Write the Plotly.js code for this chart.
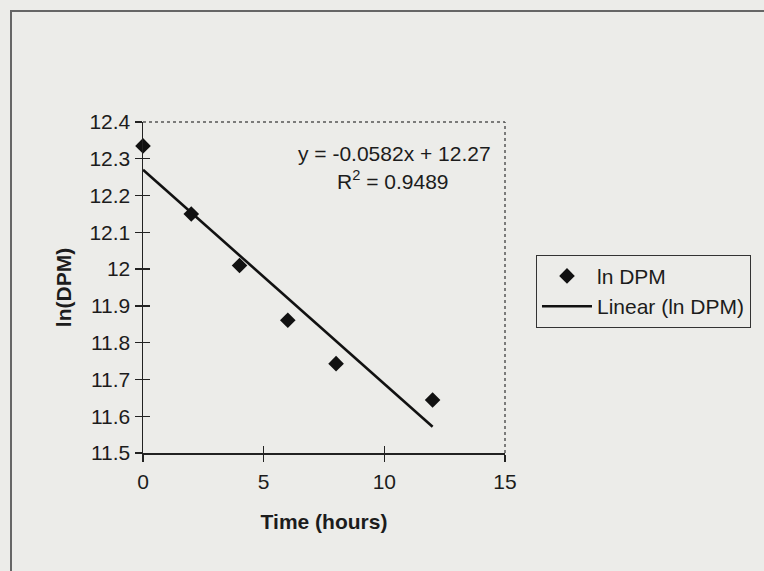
<!DOCTYPE html>
<html>
<head>
<meta charset="utf-8">
<script src="https://cdn.plot.ly/plotly-3.0.1.min.js"></script>
<style>
html,body{margin:0;padding:0;background:#ecece9;}
#chart{width:764px;height:571px;}
</style>
</head>
<body>
<div id="chart"></div>
<script>
// Data
const timeHours = [0, 2, 4, 6, 8, 12];
const lnDPM = [12.335, 12.15, 12.01, 11.861, 11.743, 11.644];
const trendSlope = -0.0582;
const trendIntercept = 12.27;
const rSquared = 0.9489;
const trendRange = [0, 12];
const xTicks = [0, 5, 10, 15];
const yTicks = [11.5, 11.6, 11.7, 11.8, 11.9, 12, 12.1, 12.2, 12.3, 12.4];
const seriesName = "ln DPM";
const trendName = "Linear (ln DPM)";

const trendX = trendRange;
const trendY = trendRange.map(x => trendSlope * x + trendIntercept);

const FONT = "Liberation Sans, Arial, Helvetica, sans-serif";
const FS = 21;

const traces = [
  {
    x: timeHours, y: lnDPM, type: "scatter", mode: "markers", name: seriesName,
    marker: {symbol: "diamond", size: 12, color: "#111"}, cliponaxis: false
  },
  {
    x: trendX, y: trendY, type: "scatter", mode: "lines", name: trendName,
    line: {color: "#111", width: 2.6}
  }
];

const layout = {
  width: 764, height: 571,
  paper_bgcolor: "#ecece9",
  plot_bgcolor: "rgba(0,0,0,0)",
  margin: {l: 143, r: 259, t: 122, b: 118},
  font: {family: FONT, size: FS, color: "#1c1c1c"},
  showlegend: true,
  legend: {
    x: 1.0856, y: 0.599, xanchor: "left", yanchor: "top",
    bgcolor: "rgba(0,0,0,0)", bordercolor: "#333", borderwidth: 1,
    font: {family: FONT, size: FS, color: "#1c1c1c"},
    itemwidth: 50
  },
  xaxis: {
    range: [0, 15], tickvals: xTicks, ticktext: xTicks.map(String),
    showgrid: false, zeroline: false, showline: true, linecolor: "#222", linewidth: 1.5,
    ticks: "outside", ticklen: 7, tickcolor: "#222", tickwidth: 1.3,
    ticklabelstandoff: 2,
    tickfont: {family: FONT, size: FS, color: "#1c1c1c"},
    title: {text: "<b>Time (hours)</b>", font: {family: FONT, size: FS, color: "#1c1c1c"}, standoff: 22},
    automargin: false
  },
  yaxis: {
    range: [11.5, 12.4], tickvals: yTicks, ticktext: yTicks.map(v => String(v)),
    showgrid: false, zeroline: false, showline: true, linecolor: "#222", linewidth: 1.5,
    ticks: "outside", ticklen: 7, tickcolor: "#222", tickwidth: 1.3,
    tickfont: {family: FONT, size: FS, color: "#1c1c1c"},
    title: {text: "<b>ln(DPM)</b>", font: {family: FONT, size: FS, color: "#1c1c1c"}, standoff: 12},
    automargin: false
  },
  xaxis2: {
    overlaying: "x", range: [0, 15], tickvals: xTicks, showticklabels: false,
    showgrid: false, zeroline: false, showline: false,
    ticks: "inside", ticklen: 7, tickcolor: "#222", tickwidth: 1.3, anchor: "y", side: "bottom"
  },
  yaxis2: {
    overlaying: "y", range: [11.5, 12.4], tickvals: yTicks, showticklabels: false,
    showgrid: false, zeroline: false, showline: false,
    ticks: "inside", ticklen: 7, tickcolor: "#222", tickwidth: 1.3, anchor: "x", side: "left"
  },
  shapes: [
    // dotted top and right plot borders
    {type: "line", xref: "paper", yref: "paper", x0: 0, x1: 1, y0: 1, y1: 1,
     line: {color: "#555", width: 1.5, dash: "dot"}},
    {type: "line", xref: "paper", yref: "paper", x0: 1, x1: 1, y0: 0, y1: 1,
     line: {color: "#555", width: 1.5, dash: "dot"}},
    // outer chart frame (extends beyond the image at right and bottom)
    {type: "rect", xref: "paper", yref: "paper",
     x0: (11 - 143) / 362, x1: (790 - 143) / 362,
     y0: (453 - 600) / 331, y1: (453 - 11) / 331,
     line: {color: "#666", width: 2}}
  ],
  annotations: [
    {xref: "paper", yref: "paper", x: (394 - 143) / 362, y: (453 - 153) / 331,
     text: "y = " + trendSlope + "x + " + trendIntercept, showarrow: false,
     xanchor: "center", yanchor: "middle", font: {family: FONT, size: FS, color: "#1c1c1c"}},
    {xref: "paper", yref: "paper", x: (393 - 143) / 362, y: (453 - 180) / 331,
     text: "R<sup>2</sup> = " + rSquared, showarrow: false,
     xanchor: "center", yanchor: "middle", font: {family: FONT, size: FS, color: "#1c1c1c"}}
  ]
};

const data = traces.concat([
  // empty trace on the overlay axes so their inside ticks are drawn
  {x: [null], y: [null], xaxis: "x2", yaxis: "y2", mode: "markers",
   showlegend: false, hoverinfo: "skip"}
]);

Plotly.newPlot("chart", data, layout, {displayModeBar: false, staticPlot: true});
</script>
</body>
</html>
